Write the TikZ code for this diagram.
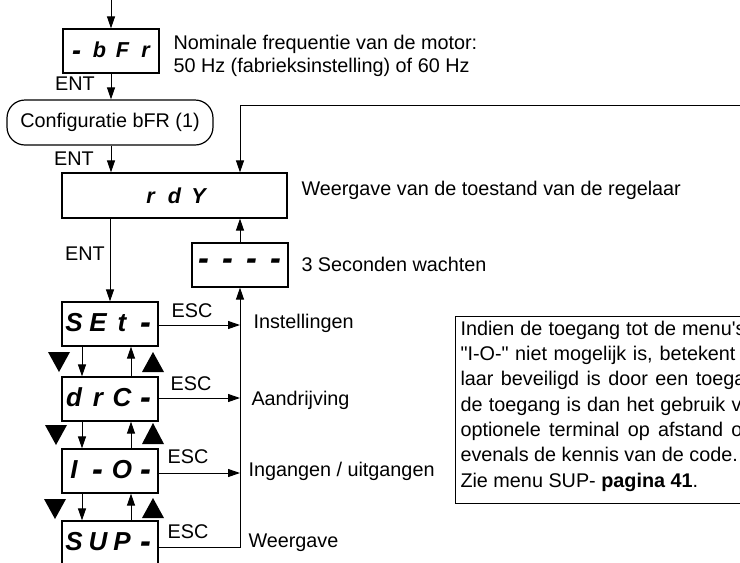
\documentclass[tikz,border=0pt]{standalone}
\usepackage{fontspec}
\usepackage{graphicx}
\newfontfamily\arial{Liberation Sans}
\usetikzlibrary{arrows.meta}
\newcommand\dchar[1]{\makebox[12pt]{#1}}
\newcommand\schar[1]{\makebox[11.5pt]{#1}}
\newcommand\dbar{\raisebox{-0.11em}{\scalebox{1.25}[1.4]{-}}}
\begin{document}
\begin{tikzpicture}[x=0.5pt,y=-0.5pt,
  font=\arial\fontsize{9.9}{12}\selectfont,
  line width=0.5pt,
  arr/.style={-{Triangle[length=6pt,width=4pt]}},
  disp/.style={draw, line width=0.6pt, inner sep=0pt, minimum width=48pt, minimum height=22pt,
    font=\arial\fontsize{13}{13}\selectfont\bfseries\itshape},
  smalldisp/.style={disp, font=\arial\fontsize{10.8}{11}\selectfont\bfseries\itshape},
  lbl/.style={anchor=west, inner sep=0pt},
  txt/.style={anchor=base west, inner sep=0pt},
  tri/.style={fill=black}]
\useasboundingbox (0,0) rectangle (740,563);
\clip (0,0) rectangle (740,563);

% boxes
\node[smalldisp] (bfr) at (111,51) {\schar{\dbar}\schar{b}\schar{F}\schar{r}};
\node[draw, line width=0.6pt, rounded corners=9pt, minimum width=103pt, minimum height=22.5pt, inner sep=0pt] (conf) at (110,122.5) {Configuratie bFR (1)};
\node[smalldisp, minimum width=112.5pt, minimum height=22.5pt] (rdy) at (174.5,195.5) {\dchar{r}\dchar{d}\dchar{Y}\hspace{6.5pt}};
\node[disp] (wait) at (240,265) {\dchar{\dbar}\dchar{\dbar}\dchar{\dbar}\dchar{\dbar}};
\node[disp] (set) at (110,324) {\dchar{S}\dchar{E}\dchar{t}\dchar{\dbar}};
\node[disp] (drc) at (110,399) {\dchar{d}\dchar{r}\dchar{C}\dchar{\dbar}};
\node[disp] (io) at (110,471) {\dchar{I}\dchar{\dbar}\dchar{O}\dchar{\dbar}};
\node[disp] (sup) at (110,543) {\dchar{S}\dchar{U}\dchar{P}\dchar{\dbar}};

% main vertical flow
\coordinate (top) at (111,-5);
\draw[arr] (top) -- (bfr.north);
\draw[arr] (bfr.south) -- (bfr.south |- conf.north);
\draw[arr] (bfr.south |- conf.south) -- (bfr.south |- rdy.north);
\draw[arr] (set.north |- rdy.south) -- (set.north);

% feedback loop
\coordinate (fb) at (745,105);
\draw[arr] (fb) -| (wait.north |- rdy.north);
\draw[arr] (wait.north) -- (wait.north |- rdy.south);
\coordinate (vs) at (240,547);
\draw[arr] (vs -| sup.east) -- (vs) -- (wait.south);

% ESC arrows
\coordinate (e1) at (240,325);
\coordinate (e2) at (240,398);
\coordinate (e3) at (240,473);
\draw[arr] (e1 -| set.east) -- (e1);
\draw[arr] (e2 -| drc.east) -- (e2);
\draw[arr] (e3 -| io.east) -- (e3);

% up / down arrows
\coordinate (dx) at (82,0);
\coordinate (ux) at (131,0);
\draw[arr] (set.south -| dx) -- (drc.north -| dx);
\draw[arr] (drc.north -| ux) -- (set.south -| ux);
\draw[arr] (drc.south -| dx) -- (io.north -| dx);
\draw[arr] (io.north -| ux) -- (drc.south -| ux);
\draw[arr] (io.south -| dx) -- (sup.north -| dx);
\draw[arr] (sup.north -| ux) -- (io.south -| ux);

% big triangles
\fill[tri] (48,352) -- (70,352) -- (59,372) -- cycle;
\fill[tri] (142,372) -- (164,372) -- (153,352) -- cycle;
\fill[tri] (45,425) -- (67,425) -- (56,445) -- cycle;
\fill[tri] (142,444) -- (164,444) -- (153,423) -- cycle;
\fill[tri] (44,499) -- (66,499) -- (55,519) -- cycle;
\fill[tri] (142,518) -- (164,518) -- (153,498) -- cycle;

% labels
\node[lbl] (nom1) at (173,44) {Nominale frequentie van de motor:};
\node[lbl] (nom2) at (173,67) {50 Hz (fabrieksinstelling) of 60 Hz};
\node (ent1) at (75,84) {ENT};
\node (ent2) at (74,159) {ENT};
\node (ent3) at (85,254) {ENT};
\node[lbl] (wv) at (301,190) {Weergave van de toestand van de regelaar};
\node[lbl] (sec) at (301,264) {3 Seconden wachten};
\node (esc1) at (192,311) {ESC};
\node (esc2) at (191,384) {ESC};
\node (esc3) at (188,457) {ESC};
\node (esc4) at (188,532) {ESC};
\node[lbl] (l1) at (253,323) {Instellingen};
\node[lbl] (l2) at (251,400) {Aandrijving};
\node[lbl] (l3) at (248,471) {Ingangen / uitgangen};
\node[lbl] (l4) at (248,543) {Weergave};

% note box
\node[draw, line width=0.6pt, anchor=north west, minimum width=152.5pt, minimum height=93.5pt, inner sep=0pt] (note) at (455,316) {};
\node[txt] (n1) at (460,335) {\makebox[142.5pt][s]{Indien de toegang tot de menu's}};
\node[txt] (n2) at (460,360) {\makebox[137.5pt][s]{"I-O-" niet mogelijk is, betekent}};
\node[txt] (n3) at (460,385) {\makebox[142.5pt][s]{laar beveiligd is door een toega}};
\node[txt] (n4) at (460,411) {\makebox[140.5pt][s]{de toegang is dan het gebruik v}};
\node[txt] (n5) at (460,436) {\makebox[141pt][s]{optionele terminal op afstand o}};
\node[txt] (n6) at (460,461) {evenals de kennis van de code.};
\node[txt] (n7) at (460,487) {Zie menu SUP- \textbf{pagina 41}.};
\end{tikzpicture}
\end{document}
